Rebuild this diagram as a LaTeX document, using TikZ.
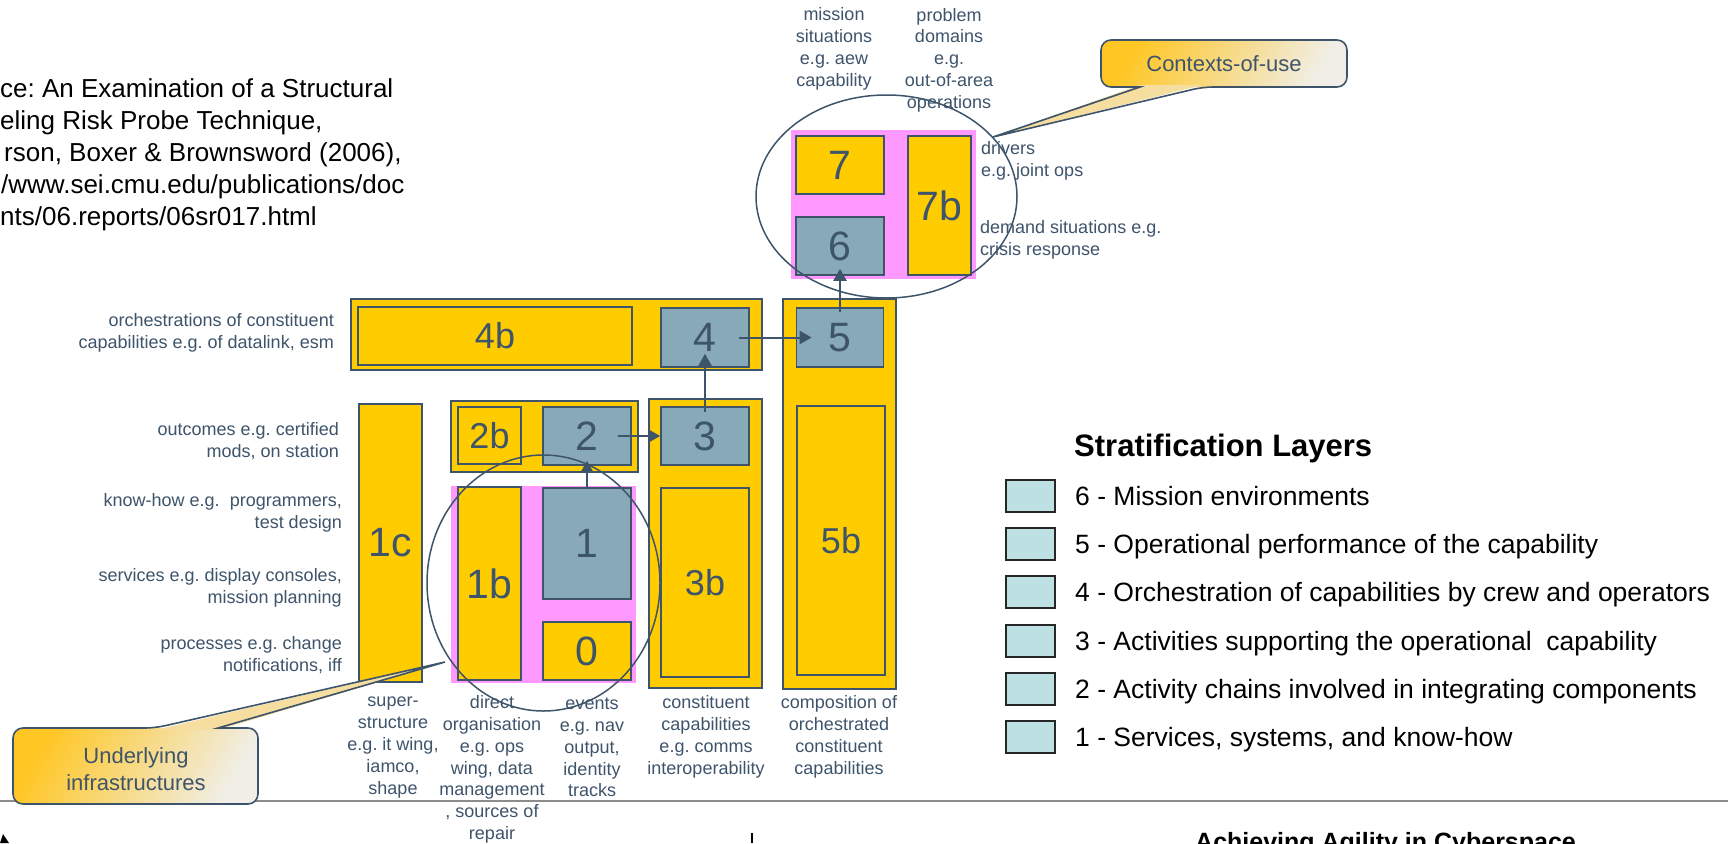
\documentclass[tikz,border=0pt]{standalone}
\usepackage{fontspec}
\setmainfont{Liberation Sans}
\usetikzlibrary{shapes.geometric, positioning, arrows.meta}
\frenchspacing

\definecolor{amarillo}{RGB}{255,204,0}
\definecolor{azulgris}{RGB}{135,169,184}
\definecolor{pizarra}{RGB}{62,84,107}
\definecolor{rosa}{RGB}{255,153,255}
\definecolor{celeste}{RGB}{189,224,227}
\definecolor{oro}{RGB}{255,198,36}
\definecolor{crema}{RGB}{240,238,230}
\definecolor{palido}{RGB}{246,222,160}
\definecolor{regla}{RGB}{140,140,140}

\newcommand{\midnum}{\fontsize{36}{36}\selectfont}

\tikzset{
  wh/.style 2 args={minimum width=#1pt, minimum height=#2pt},
  container/.style={rectangle, draw=pizarra, line width=2pt, fill=amarillo, inner sep=0pt},
  block/.style={rectangle, draw=pizarra, line width=1.6pt, fill=amarillo, text=pizarra, inner sep=0pt, font=\fontsize{41}{41}\selectfont},
  layer/.style={block, fill=azulgris},
  zone/.style={rectangle, fill=rosa, inner sep=0pt},
  ring/.style={ellipse, draw=pizarra, line width=1.5pt, inner sep=0pt},
  lbl/.style={text=pizarra, align=center, inner sep=0pt, font=\fontsize{18}{21.8}\selectfont},
  src/.style={anchor=base west, inner sep=0pt, font=\fontsize{26}{32}\selectfont},
  arrow/.style={line width=2pt, draw=pizarra, -{Triangle[length=12pt,width=13pt]}},
  bubble/.style={draw=pizarra, line width=1.6pt},
  legbox/.style={rectangle, draw=black!85, line width=2pt, fill=celeste, minimum width=49pt, minimum height=32pt, inner sep=0pt}
}

\begin{document}
\begin{tikzpicture}[x=1pt, y=-1pt]
    \useasboundingbox (0,0) rectangle (1728,843);
    \clip (0,0) rectangle (1728,843);
    \fill[white] (0,0) rectangle (1728,843);

    % Referencia (recortada por el borde)
    \node[src] (src1) at (0,97) {ce: An Examination of a Structural};
    \node[src] (src2) at (0,129) {eling Risk Probe Technique,};
    \node[src] (src3) at (4,161) {rson, Boxer \& Brownsword (2006),};
    \node[src] (src4) at (1,193) {/www.sei.cmu.edu/publications/doc};
    \node[src] (src5) at (0,225) {nts/06.reports/06sr017.html};

    % Linea inferior y pie
    \draw[regla, line width=1.5pt] (0,801) -- (1728,801);
    \draw[black, line width=2pt] (752,833) -- (752,843);
    \fill[black] (0,843) -- (3,834) -- (9,843) -- cycle;
    \node[font=\bfseries\fontsize{25}{25}\selectfont, anchor=base west, inner sep=0pt] (pie) at (1195,850) {Achieving Agility in Cyberspace};

    % Zonas rosas
    \node[zone, wh={185}{197}] (zona1) at (543.5,584.5) {};
    \node[zone, wh={185}{149}] (zona2) at (883.5,204.5) {};

    % Contenedores amarillos
    \node[container, wh={411}{71}] (fila4) at (556.5,334.5) {};
    \node[container, wh={187}{71}] (fila2) at (544.5,436.5) {};
    \node[container, wh={113}{289}] (col3) at (705.5,543.5) {};
    \node[container, wh={113}{390}] (col5) at (839.5,494) {};

    % Bloques
    \node[block, wh={274}{58}, font=\midnum] (n4b) at (495,336) {4b};
    \node[block, wh={63}{57}, font=\midnum] (n2b) at (489.5,435.5) {2b};
    \node[block, wh={63}{278}] (n1c) at (390.5,543) {1c};
    \node[block, wh={63}{193}] (n1b) at (489.5,583.5) {1b};
    \node[block, wh={88}{58}] (n0) at (587,651) {0};
    \node[block, wh={88}{189}, font=\midnum] (n3b) at (705,582.5) {3b};
    \node[block, wh={88}{269}, font=\midnum] (n5b) at (841,540.5) {5b};
    \node[block, wh={88}{58}] (n7) at (840,165) {7};
    \node[block, wh={63}{139}] (n7b) at (939.5,205.5) {7b};

    % Capas
    \node[layer, wh={88}{59}] (n4) at (705,337.5) {4};
    \node[layer, wh={87}{59}] (n5) at (840,337.5) {5};
    \node[layer, wh={88}{58}] (n2) at (587,436) {2};
    \node[layer, wh={88}{58}] (n3) at (705,436) {3};
    \node[layer, wh={88}{111}] (n1) at (587,543.5) {1};
    \node[layer, wh={88}{58}] (n6) at (840,246) {6};

    % Elipses
    \node[ring, wh={233}{256}] (infra) at (543.5,583) {};
    \node[ring, wh={261}{203}] (contexto) at (886.5,196.5) {};

    % Flechas entre capas
    \draw[arrow] (n1.north) -- ([yshift=5pt]n2.south);
    \draw[arrow] ([xshift=-14pt]n2.east) -- (n3.west);
    \draw[arrow] ([yshift=-6pt]n3.north) -- ([yshift=14pt]n4.south);
    \draw[arrow] ([xshift=-11pt]n4.east) -- ([xshift=16pt]n5.west);
    \draw[arrow] ([yshift=-5pt]n5.north) -- ([yshift=7pt]n6.south);

    % Etiquetas de fila
    \node[lbl, align=right, anchor=east] (et4) at (334,332.5) {orchestrations of constituent\\capabilities e.g. of datalink, esm};
    \node[lbl, align=right, anchor=east] (et2) at (339,441.5) {outcomes e.g. certified\\mods, on station};
    \node[lbl, align=right, anchor=east] (et1a) at (342,513) {know-how e.g.\ \ programmers,\\test design};
    \node[lbl, align=right, anchor=east] (et1b) at (342,587.5) {services e.g. display consoles,\\mission planning};
    \node[lbl, align=right, anchor=east] (et1c) at (342,655) {processes e.g. change\\notifications, iff};

    % Etiquetas de columna
    \node[lbl] (pie1c) at (393,747.5) {super-\\structure\\e.g. it wing,\\iamco,\\shape};
    \node[lbl] (pie1b) at (492,769.5) {direct\\organisation\\e.g. ops\\wing, data\\management\\, sources of\\repair};
    \node[lbl] (pie0) at (592,747.5) {events\\e.g. nav\\output,\\identity\\tracks};
    \node[lbl] (pie3) at (706,737) {constituent\\capabilities\\e.g. comms\\interoperability};
    \node[lbl] (pie5) at (839,737) {composition of\\orchestrated\\constituent\\capabilities};

    % Etiquetas superiores
    \node[lbl] (mision) at (834,49) {mission\\situations\\e.g. aew\\capability};
    \node[lbl] (dominio) at (949,60) {problem\\domains\\e.g.\\out-of-area\\operations};
    \node[lbl, align=left, anchor=west] (motor) at (981,161) {drivers\\e.g. joint ops};
    \node[lbl, align=left, anchor=west] (demanda) at (980,240) {demand situations e.g.\\crisis response};

    % Globo superior
    \shade[top color=oro, bottom color=crema, shading angle=60, rounded corners=10pt] (1101,40) rectangle (1347,87);
    \fill[palido] (1140,85) -- (993,137) -- (1203,85) -- cycle;
    \draw[bubble] (1101,63) [rounded corners=10pt] |- (1347,40) |- (1203,87) [sharp corners] -- (993,137) -- (1140,87) [rounded corners=10pt] -- (1101,87) -- cycle;
    \node[text=pizarra, font=\fontsize{22}{22}\selectfont] (globo1) at (1224,64) {Contexts-of-use};

    % Globo inferior
    \shade[top color=oro, bottom color=crema, shading angle=60, rounded corners=10pt] (13,728) rectangle (258,804);
    \fill[palido] (155,730) -- (445,662) -- (218,730) -- cycle;
    \draw[bubble] (13,766) [rounded corners=10pt] |- (155,728) [sharp corners] -- (445,662) -- (218,728) [rounded corners=10pt] -| (258,804) -- (13,804) -- cycle;
    \node[text=pizarra, align=center, font=\fontsize{22}{27}\selectfont] (globo2) at (136,769.5) {Underlying\\infrastructures};

    % Leyenda
    \node[font=\bfseries\fontsize{31}{31}\selectfont, anchor=west, inner sep=0pt] (leytit) at (1074,448) {Stratification Layers};
    \foreach \i/\txt in {0/{6 - Mission environments},
                         1/{5 - Operational performance of the capability},
                         2/{4 - Orchestration of capabilities by crew and operators},
                         3/{3 - Activities supporting the operational\ \ capability},
                         4/{2 - Activity chains involved in integrating components},
                         5/{1 - Services, systems, and know-how}} {
        \node[legbox] (ley\i) at (1030.5,{496+48.2*\i}) {};
        \node[right=19pt of ley\i, inner sep=0pt, text height=19pt, text depth=0pt, font=\fontsize{26.5}{26.5}\selectfont] (leyt\i) {\txt};
    }
\end{tikzpicture}
\end{document}
